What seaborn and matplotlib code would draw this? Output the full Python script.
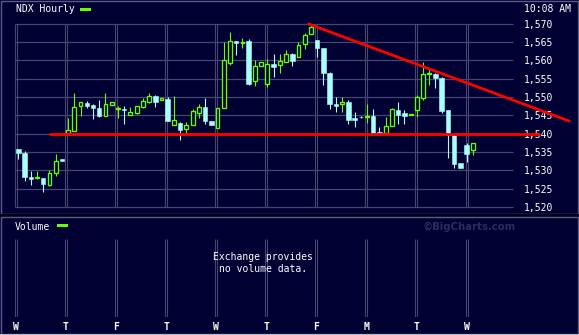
import numpy as np
import pandas as pd
import matplotlib
matplotlib.use("Agg")
import matplotlib.pyplot as plt
from matplotlib.patches import Rectangle
import seaborn as sns

# ---------------- data ----------------
opens = [1535.8, 1534.8, 1528.3, 1528.0, 1527.9, 1526.1, 1529.4, 1533.1,
         1539.9, 1540.8, 1547.6, 1548.4, 1547.9, 1547.0, 1544.9, 1547.9,
         1546.7, 1546.8, 1545.2, 1545.7, 1547.3, 1548.7, 1550.2, 1549.2,
         1549.4, 1542.4, 1542.9, 1541.3, 1542.4, 1545.6, 1547.3, 1543.4,
         1541.4, 1546.9, 1559.3, 1565.2, 1564.7, 1565.2, 1554.2, 1558.5,
         1553.4, 1559.0, 1558.8, 1559.4, 1561.7, 1560.8, 1564.3, 1567.2,
         1565.5, 1563.3, 1556.6, 1548.2, 1548.0, 1548.7, 1544.2, 1544.6,
         1544.5, 1544.8, 1540.4, 1540.1, 1542.2, 1546.4, 1545.6, 1545.0,
         1546.5, 1549.8, 1556.2, 1556.2, 1555.1, 1546.4, 1539.5, 1532.0,
         1536.9, 1535.4]
highs = [1535.8, 1535.3, 1529.8, 1529.8, 1527.9, 1530.2, 1534.4, 1533.1,
         1544.3, 1551.1, 1548.5, 1548.9, 1548.2, 1549.2, 1551.1, 1548.5,
         1547.5, 1547.4, 1547.2, 1547.4, 1549.7, 1551.1, 1550.5, 1549.7,
         1550.0, 1550.2, 1543.2, 1543.2, 1546.7, 1548.1, 1549.7, 1543.4,
         1546.9, 1564.9, 1567.6, 1565.2, 1566.0, 1565.9, 1560.1, 1559.5,
         1560.2, 1561.7, 1561.7, 1562.8, 1562.0, 1565.0, 1567.4, 1569.5,
         1565.5, 1563.3, 1556.9, 1550.0, 1549.9, 1549.2, 1545.9, 1544.7,
         1548.1, 1546.7, 1541.7, 1544.5, 1547.1, 1548.6, 1546.4, 1545.0,
         1550.4, 1559.5, 1557.6, 1556.4, 1555.4, 1546.4, 1539.5, 1532.0,
         1537.4, 1537.4]
lows = [1533.0, 1527.2, 1526.0, 1527.7, 1524.2, 1525.8, 1528.5, 1532.4,
        1539.9, 1540.8, 1544.9, 1547.1, 1544.1, 1544.5, 1544.9, 1547.9,
        1544.3, 1542.6, 1545.2, 1545.4, 1547.1, 1548.3, 1547.2, 1549.2,
        1543.5, 1542.4, 1538.3, 1539.9, 1542.4, 1544.3, 1542.7, 1542.3,
        1541.4, 1546.9, 1558.8, 1561.5, 1563.3, 1553.3, 1553.1, 1558.5,
        1552.8, 1555.4, 1556.6, 1559.4, 1558.5, 1560.8, 1563.1, 1567.2,
        1561.0, 1553.3, 1546.7, 1545.9, 1545.9, 1542.7, 1541.9, 1544.3,
        1543.0, 1540.2, 1539.9, 1540.1, 1542.2, 1542.7, 1542.7, 1545.0,
        1544.6, 1549.2, 1553.2, 1552.4, 1545.7, 1533.4, 1530.6, 1530.6,
        1532.3, 1534.2]
closes = [1534.6, 1528.3, 1527.7, 1528.2, 1526.3, 1529.2, 1532.4, 1532.4,
          1541.0, 1547.2, 1548.5, 1547.5, 1547.0, 1544.8, 1548.0, 1548.5,
          1546.8, 1546.4, 1545.8, 1547.4, 1548.9, 1550.2, 1548.6, 1549.7,
          1543.5, 1543.7, 1541.0, 1542.3, 1546.2, 1547.2, 1543.5, 1542.3,
          1546.9, 1560.0, 1565.1, 1564.8, 1564.8, 1553.6, 1558.4, 1559.5,
          1558.9, 1558.2, 1559.8, 1561.7, 1559.9, 1564.1, 1567.0, 1569.0,
          1563.3, 1556.6, 1548.2, 1547.5, 1548.6, 1543.8, 1543.8, 1544.4,
          1544.6, 1540.2, 1539.9, 1542.2, 1546.6, 1545.1, 1544.9, 1545.05,
          1550.0, 1556.2, 1556.3, 1555.1, 1546.2, 1539.7, 1531.7, 1530.6,
          1534.5, 1537.4]

day_labels = ["W", "T", "F", "T", "W", "T", "F", "M", "T", "W"]
price_ticks = [1520, 1525, 1530, 1535, 1540, 1545, 1550, 1555, 1560, 1565, 1570]
support_x = [5.1, 83.7]
support_y = [1540.0, 1540.0]
resist_x = [46.6, 88.5]
resist_y = [1569.9, 1543.4]
title_text = "NDX Hourly"
time_text = "10:08 AM"
volume_text = "Volume"
novol_text = "Exchange provides\nno volume data."
mark_text = "\u00a9BigCharts.com"

# ---------------- style ----------------
BG = "#000033"
GRID = "#45456e"
FRAME = "#5a5a82"
GREEN = "#66ff00"
CYAN = "#aaffff"
RED = "#ff0000"
MARK = "#2c2c62"

sns.set_theme(style="dark", rc={"axes.facecolor": BG, "figure.facecolor": BG,
                                "savefig.facecolor": BG})
plt.rcParams["font.family"] = ["DejaVu Sans Mono", "DejaVu Sans"]

W, H = 579, 335
def fx(px):
    return px / W
def fy(py):
    return 1 - py / H

fig = plt.figure(figsize=(W / 100, H / 100), dpi=100)
fig.patch.set_facecolor(BG)

# panel frames
fig.add_artist(Rectangle((fx(0.5), fy(213.5)), fx(578) - fx(0.5), (213.5 - 0.5) / H,
                         transform=fig.transFigure, fill=False, ec=FRAME, lw=1.0))
fig.add_artist(Rectangle((0, fy(216)), 1, 2.5 / H, transform=fig.transFigure,
                         fc="#000012", ec="none"))
fig.add_artist(Rectangle((fx(0.5), fy(333.5)), fx(578) - fx(0.5), (333.5 - 216.5) / H,
                         transform=fig.transFigure, fill=False, ec=FRAME, lw=1.0))
fig.add_artist(Rectangle((0, 0), 1, 1.5 / H, transform=fig.transFigure,
                         fc="#b8b8c8", ec="none"))

X0 = -0.61
X1 = 79.45
day_lines = 8.04 * np.arange(len(day_labels)) - 0.37
dd = 0.16

# ---------------- price panel ----------------
ax = fig.add_axes([fx(14.5), fy(207), fx(513) - fx(14.5), (207 - 23.5) / H])
ax.set_facecolor(BG)
ax.set_xlim(X0, X1)
ax.set_ylim(1520, 1570)
for s in ax.spines.values():
    s.set_visible(False)
ax.grid(False)

ax.hlines(price_ticks, X0, X1, color=GRID, lw=0.9, zorder=1, clip_on=False)
ax.vlines(np.concatenate([day_lines - dd, day_lines + dd]), 1520, 1570,
          color=GRID, lw=0.8, zorder=1, clip_on=False)

df = pd.DataFrame({"idx": np.arange(len(opens)), "open": opens, "high": highs,
                   "low": lows, "close": closes})
df["up"] = df["close"] >= df["open"]
df["bottom"] = df[["open", "close"]].min(axis=1)
df["height"] = (df["close"] - df["open"]).abs().clip(lower=0.25)
df["color"] = np.where(df["up"], GREEN, CYAN)

ax.vlines(df["idx"], df["low"], df["high"], colors=df["color"], lw=0.8, zorder=2)
up = df[df["up"]]
dn = df[~df["up"]]
ax.bar(dn["idx"], dn["height"], bottom=dn["bottom"], width=0.72,
       color=CYAN, edgecolor=CYAN, lw=0.4, zorder=3)
ax.bar(up["idx"], up["height"], bottom=up["bottom"], width=0.62,
       color=BG, edgecolor=GREEN, lw=0.95, zorder=3)

sns.lineplot(x=support_x, y=support_y, ax=ax, color=RED, lw=2.0,
             clip_on=False, zorder=5, legend=False)
sns.lineplot(x=resist_x, y=resist_y, ax=ax, color=RED, lw=2.0,
             clip_on=False, zorder=5, legend=False)

ax.yaxis.tick_right()
ax.set_yticks(price_ticks)
ax.set_yticklabels([f"{v:,}" for v in price_ticks])
ax.set_xticks([])
ax.tick_params(axis="y", length=0, pad=7.8, labelsize=7, labelcolor="white")
ax.set_xlabel("")
ax.set_ylabel("")

# ---------------- volume panel ----------------
ax2 = fig.add_axes([fx(14.5), fy(317), fx(513) - fx(14.5), (317 - 239) / H])
ax2.set_facecolor(BG)
ax2.patch.set_alpha(0)
ax2.set_xlim(X0, X1)
ax2.set_ylim(0, 1)
for s in ax2.spines.values():
    s.set_visible(False)
ax2.grid(False)
ax2.vlines(np.concatenate([day_lines - dd, day_lines + dd]), 0, 1,
           color=GRID, lw=0.8)
ax2.set_yticks([])
ax2.set_xticks(day_lines)
ax2.set_xticklabels(day_labels, fontweight="bold")
ax2.tick_params(axis="x", length=0, pad=3.5, labelsize=7, labelcolor="white")

# ---------------- texts ----------------
fig.text(fx(16), fy(9.5), title_text, color="white", fontsize=7, ha="left", va="center")
fig.add_artist(Rectangle((fx(80), fy(10.5)), 11 / W, 3 / H, transform=fig.transFigure,
                         fc=GREEN, ec="none"))
fig.text(fx(524), fy(9.5), time_text, color="white", fontsize=7, ha="left", va="center")
fig.text(fx(15), fy(226.5), volume_text, color="white", fontsize=7, ha="left", va="center")
fig.add_artist(Rectangle((fx(57), fy(227)), 11 / W, 3 / H, transform=fig.transFigure,
                         fc=GREEN, ec="none"))
fig.text(fx(469), fy(226.5), mark_text, color=MARK, fontsize=7.3, ha="center",
         va="center", fontweight="bold", family="DejaVu Sans")
fig.text(fx(263), fy(263), novol_text, color="white", fontsize=7, ha="center",
         va="center", linespacing=1.35)

fig.savefig("out.png", dpi=100, facecolor=BG)
